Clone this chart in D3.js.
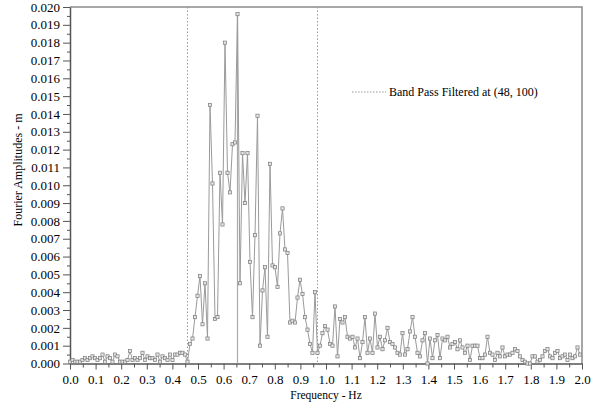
<!DOCTYPE html>
<html>
<head>
<meta charset="utf-8">
<script src="https://cdn.jsdelivr.net/npm/d3@7/dist/d3.min.js"></script>
<style>
body { margin: 0; background: #fff; }
svg { display: block; font-family: "Liberation Serif", "Times New Roman", serif; }
</style>
</head>
<body>
<svg id="chart"></svg>
<script>
const width = 598, height = 402;

const MARGIN = {
    "LEFT": 70,
    "RIGHT": 16,
    "TOP": 7,
    "BOTTOM": 38.5,
};

// spacing of the spectral lines (Hz)
const freqStep = 1 / 102.4;

// Fourier amplitudes (m), one per spectral line
const amplitudes = [
    0.0001, 0.0002, 0.0001, 0.0001, 0.0001, 0.0002, 0.0003, 0.0002, 0.0003, 0.0004,
    0.0003, 0.0002, 0.0003, 0.0005, 0.0001, 0.0004, 0.0003, 0.0001, 0.0005, 0.0004,
    0.0001, 0.0001, 0.0001, 0.0002, 0.0007, 0.0002, 0.0003, 0.0002, 0.0003, 0.0006,
    0.0002, 0.0004, 0.0003, 0.0003, 0.0002, 0.0005, 0.0001, 0.0004, 0.0003, 0.0002,
    0.0005, 0.0002, 0.0005, 0.0005, 0.0006, 0.0006, 0.0005, 0.0001, 0.0011, 0.0014,
    0.0026, 0.0038, 0.0049, 0.0022, 0.0045, 0.0014, 0.0145, 0.0101, 0.0025, 0.0026,
    0.0107, 0.0078, 0.0180, 0.0107, 0.0096, 0.0123, 0.0124, 0.0196, 0.0045, 0.0118,
    0.0090, 0.0118, 0.0057, 0.0026, 0.0072, 0.0139, 0.0010, 0.0041, 0.0054, 0.0015,
    0.0112, 0.0055, 0.0054, 0.0043, 0.0073, 0.0087, 0.0064, 0.0062, 0.0023, 0.0024,
    0.0023, 0.0037, 0.0047, 0.0039, 0.0026, 0.0019, 0.0011, 0.0006, 0.0040, 0.0006,
    0.0010, 0.0017, 0.0021, 0.0019, 0.0011, 0.0010, 0.0032, 0.0004, 0.0025, 0.0023,
    0.0026, 0.0015, 0.0014, 0.0015, 0.0009, 0.0014, 0.0003, 0.0012, 0.0026, 0.0006,
    0.0014, 0.0006, 0.0028, 0.0009, 0.0015, 0.0008, 0.0013, 0.0020, 0.0012, 0.0011,
    0.0009, 0.0006, 0.0005, 0.0017, 0.0005, 0.0008, 0.0018, 0.0026, 0.0015, 0.0006,
    0.0004, 0.0013, 0.0017, 0.0000, 0.0014, 0.0003, 0.0013, 0.0016, 0.0003, 0.0014,
    0.0013, 0.0015, 0.0009, 0.0011, 0.0012, 0.0008, 0.0013, 0.0009, 0.0006, 0.0010,
    0.0002, 0.0010, 0.0010, 0.0010, 0.0003, 0.0003, 0.0005, 0.0015, 0.0006, 0.0005,
    0.0002, 0.0006, 0.0004, 0.0009, 0.0004, 0.0005, 0.0005, 0.0006, 0.0008, 0.0007,
    0.0004, 0.0002, 0.0001, 0.0000, 0.0000, 0.0004, 0.0004, 0.0001, 0.0002, 0.0004,
    0.0007, 0.0008, 0.0004, 0.0003, 0.0006, 0.0007, 0.0003, 0.0004, 0.0005, 0.0002,
    0.0005, 0.0003, 0.0004, 0.0009, 0.0005
];

// band pass cut-offs, as 1-based spectral line numbers
const bandPass = [48, 100];

const xTicks = [0.0, 0.1, 0.2, 0.3, 0.4, 0.5, 0.6, 0.7, 0.8, 0.9, 1.0,
                1.1, 1.2, 1.3, 1.4, 1.5, 1.6, 1.7, 1.8, 1.9, 2.0];
const yTicks = [0.000, 0.001, 0.002, 0.003, 0.004, 0.005, 0.006, 0.007, 0.008, 0.009, 0.010,
                0.011, 0.012, 0.013, 0.014, 0.015, 0.016, 0.017, 0.018, 0.019, 0.020];

const legendLabel = "Band Pass Filtered at (48, 100)";

const svg = d3.select("#chart").attr("width", width).attr("height", height);

const x = d3.scaleLinear()
    .domain([0, 2.0])
    .range([MARGIN.LEFT, width - MARGIN.RIGHT]);

const y = d3.scaleLinear()
    .domain([0, 0.020])
    .range([height - MARGIN.BOTTOM, MARGIN.TOP]);

const points = amplitudes.map((v, i) => ({ f: i * freqStep, v: v }));

// frame on top and right
svg.append("path")
    .attr("d", `M${x(0)},${y(0.020)}H${x(2.0)}V${y(0)}`)
    .attr("fill", "none")
    .attr("stroke", "#8a8a8a")
    .attr("stroke-width", 1.5);

// minor ticks
const yMinor = yTicks.slice(0, -1).map(d => d + 0.0005);
const xMinor = xTicks.slice(0, -1).map(d => d + 0.05);

svg.append("g")
    .attr("transform", `translate(${MARGIN.LEFT},0)`)
    .call(d3.axisLeft(y).tickValues(yMinor).tickSize(3).tickFormat(""))
    .call(g => g.select(".domain").remove())
    .selectAll("line").attr("stroke", "#555");

svg.append("g")
    .attr("transform", `translate(0,${y(0)})`)
    .call(d3.axisBottom(x).tickValues(xMinor).tickSize(4).tickFormat(""))
    .call(g => g.select(".domain").remove())
    .selectAll("line").attr("stroke", "#555");

// main axes
const yAxis = svg.append("g")
    .attr("transform", `translate(${MARGIN.LEFT},0)`)
    .call(d3.axisLeft(y).tickValues(yTicks).tickSize(7).tickPadding(3).tickFormat(d3.format(".3f")).tickSizeOuter(0));
yAxis.selectAll("text").attr("font-size", 13).attr("fill", "#000").style("font-family", "Liberation Serif");
yAxis.selectAll("line").attr("stroke", "#555");
yAxis.select(".domain").attr("stroke", "#555").attr("stroke-width", 1.5);

const xAxis = svg.append("g")
    .attr("transform", `translate(0,${y(0)})`)
    .call(d3.axisBottom(x).tickValues(xTicks).tickSize(6).tickPadding(5).tickFormat(d3.format(".1f")).tickSizeOuter(0));
xAxis.selectAll("text").attr("font-size", 13).attr("fill", "#000").style("font-family", "Liberation Serif");
xAxis.selectAll("line").attr("stroke", "#555");
xAxis.select(".domain").attr("stroke", "#555").attr("stroke-width", 1.5);

// band pass limits
svg.selectAll(".band")
    .data(bandPass)
    .enter()
    .append("line")
    .attr("class", "band")
    .attr("x1", d => x((d - 1) * freqStep))
    .attr("x2", d => x((d - 1) * freqStep))
    .attr("y1", y(0.020))
    .attr("y2", y(0))
    .attr("stroke", "#999")
    .attr("stroke-width", 1)
    .attr("stroke-dasharray", "1.5,2");

// line at the peak
const peak = points[d3.maxIndex(points, d => d.v)];
svg.append("line")
    .attr("x1", x(peak.f)).attr("x2", x(peak.f))
    .attr("y1", y(peak.v)).attr("y2", y(0))
    .attr("stroke", "#aaa")
    .attr("stroke-width", 1.2);

// spectrum
const line = d3.line().x(d => x(d.f)).y(d => y(d.v));
svg.append("path")
    .datum(points)
    .attr("d", line)
    .attr("fill", "none")
    .attr("stroke", "#9a9a9a")
    .attr("stroke-width", 1);

svg.append("g")
    .selectAll("rect")
    .data(points)
    .enter()
    .append("rect")
    .attr("x", d => x(d.f) - 1.6)
    .attr("y", d => y(d.v) - 1.6)
    .attr("width", 3.2)
    .attr("height", 3.2)
    .attr("fill", "#e4e4e4")
    .attr("stroke", "#7a7a7a")
    .attr("stroke-width", 0.7);

// legend
svg.append("line")
    .attr("x1", 352).attr("x2", 386)
    .attr("y1", 92).attr("y2", 92)
    .attr("stroke", "#999")
    .attr("stroke-dasharray", "1.5,1.5");
svg.append("text")
    .attr("x", 389).attr("y", 96)
    .attr("font-size", 12)
    .text(legendLabel);

// axis titles
svg.append("text")
    .attr("x", (x(0) + x(2.0)) / 2)
    .attr("y", 399)
    .attr("text-anchor", "middle")
    .attr("font-size", 11.5)
    .text("Frequency - Hz");

svg.append("text")
    .attr("transform", "translate(22,170) rotate(-90)")
    .attr("text-anchor", "middle")
    .attr("font-size", 12)
    .text("Fourier Amplitudes - m");
</script>
</body>
</html>
